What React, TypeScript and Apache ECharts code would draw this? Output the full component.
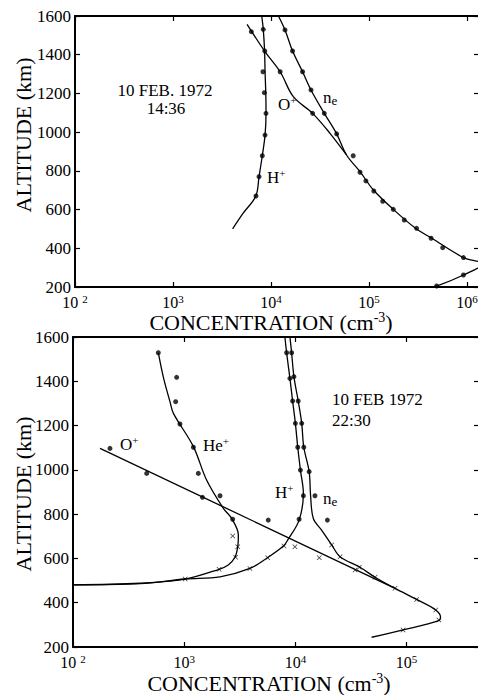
import React, { useEffect, useRef } from 'react';
import * as echarts from 'echarts';

// ---------- Top panel: 10 FEB. 1972 14:36 (concentration cm^-3, altitude km) ----------
const topHCurve: [number, number][] = [
  [8040, 1600], [8340, 1531], [8600, 1420], [8700, 1312], [8850, 1200], [8900, 1100],
  [8700, 985], [8150, 878], [7550, 770], [7000, 670], [5200, 581], [4060, 500],
];
const topHDots: [number, number][] = [
  [8340, 1531], [8630, 1419], [8280, 1312], [8550, 1204], [8890, 1097], [8690, 985],
  [8150, 878], [7550, 770], [7030, 670],
];
const topOCurve: [number, number][] = [
  [5700, 1557], [8600, 1419], [12400, 1312], [16900, 1183], [26600, 1097], [40000, 994], [59000, 882],
];
const topODots: [number, number][] = [[6300, 1519], [12400, 1312], [26600, 1097]];
const topNeCurve: [number, number][] = [
  [11900, 1600], [13900, 1528], [16600, 1419], [21000, 1312], [25600, 1218], [35000, 1097],
  [46800, 991], [59000, 882], [81000, 796], [111000, 701], [177000, 601], [299000, 503],
  [437000, 452], [920000, 352], [1450000, 320], [920000, 262], [490000, 205], [400000, 198],
];
const topNeDots: [number, number][] = [
  [13900, 1528], [16600, 1419], [21000, 1312], [25600, 1218], [35000, 1097], [46800, 991],
  [69000, 878], [81000, 793], [93000, 748], [112000, 696], [138000, 643], [177000, 601],
  [229000, 546], [306000, 503], [430000, 452], [565000, 403], [920000, 352], [920000, 262],
  [490000, 205],
];

// ---------- Bottom panel: 10 FEB 1972 22:30 ----------
const botHeCurve: [number, number][] = [
  [585, 1529], [650, 1418], [745, 1308], [800, 1255], [1210, 1105], [1590, 954], [2250, 826],
  [2670, 781], [3070, 706], [3030, 653], [2860, 605], [2490, 570], [2060, 551], [1020, 507],
  [400, 488], [100, 481],
];
const botHeDots: [number, number][] = [
  [585, 1529], [855, 1418], [838, 1308], [916, 1207], [1210, 1102], [1340, 984], [2100, 883], [2730, 777],
];
const botHeCross: [number, number][] = [[2730, 701], [3030, 653], [2900, 605], [2060, 551], [1020, 507]];

const botHCurve: [number, number][] = [
  [8050, 1600], [8340, 1529], [8930, 1413], [9440, 1311], [10000, 1210], [10500, 1102],
  [11100, 999], [11800, 894], [10800, 773], [8600, 686], [7800, 656], [5600, 603],
  [3900, 555], [2100, 517], [1020, 507], [400, 486], [100, 481],
];
const botHDots: [number, number][] = [
  [8340, 1529], [8930, 1413], [9440, 1311], [10000, 1210], [10500, 1102], [11100, 999], [11800, 883], [10800, 777],
];
const botHCross: [number, number][] = [[7900, 656], [5640, 603], [3900, 555]];

const botNeCurve: [number, number][] = [
  [8930, 1600], [9250, 1529], [9700, 1421], [10600, 1311], [11400, 1210], [11900, 1102],
  [13300, 992], [13700, 883], [14500, 780], [17200, 728], [21200, 661], [25200, 608],
  [38100, 560], [52000, 515], [78700, 465], [123000, 415], [183000, 367], [202000, 334],
  [195000, 319], [93000, 277], [48500, 244],
];
const botNeDots: [number, number][] = [
  [9250, 1529], [9700, 1421], [10600, 1311], [11400, 1210], [11900, 1102], [13300, 992], [15000, 883], [19400, 773],
];
const botNeCross: [number, number][] = [
  [21200, 661], [25200, 608], [37600, 560], [52000, 515], [78700, 465], [123000, 415],
  [183000, 367], [195000, 322], [93000, 277],
];

const botOLine: [number, number][] = [[175, 1097], [78700, 465]];
const botODots: [number, number][] = [[215, 1097], [460, 984], [1460, 876], [5700, 773]];
const botOCross: [number, number][] = [[9900, 653], [16400, 603], [34400, 548]];

const yTicks = { min: 200, max: 1600, step: 200 };
const topXRange = { min: 100, max: 1.326e6 };
const botXRange = { min: 100, max: 4.48e5 };

const FONT = 'Liberation Serif';
const CROSS = 'path://M0,1 L1,0 L5,4 L9,0 L10,1 L6,5 L10,9 L9,10 L5,6 L1,10 L0,9 L4,5 Z';

export default function App() {
  const ref = useRef<HTMLDivElement>(null);
  useEffect(() => {
    document.body.style.margin = '0';
    const chart = echarts.init(ref.current!, null, { renderer: 'svg' });

    const isPow = (v: number) => {
      const l = Math.log10(v);
      return Math.abs(l - Math.round(l)) < 1e-6;
    };
    const xLabel = (v: number) => {
      if (!isPow(v)) return '';
      const e = Math.round(Math.log10(v));
      return e === 2 ? '{b|10 }{s|2}' : '{b|10}{s|' + e + '}';
    };
    const axisLine = { show: true, onZero: false, lineStyle: { color: '#000', width: 2 } };
    const axisTick = { show: true, inside: true, length: 5, lineStyle: { color: '#000', width: 1.2 } };
    const xRich = {
      b: { fontSize: 16, fontFamily: FONT, color: '#000', lineHeight: 18 },
      s: { fontSize: 11, fontFamily: FONT, color: '#000', verticalAlign: 'top' },
    };

    const mkX = (gi: number, range: { min: number; max: number }, pos: 'bottom' | 'top') => ({
      type: 'log', logBase: 10, gridIndex: gi, min: range.min, max: range.max, position: pos,
      axisLine, axisTick,
      axisLabel: pos === 'bottom'
        ? { show: true, formatter: xLabel, margin: 6, rich: xRich, fontFamily: FONT, showMaxLabel: false }
        : { show: false },
      splitLine: { show: false }, minorTick: { show: false },
    });
    const mkY = (gi: number, pos: 'left' | 'right') => ({
      type: 'value', gridIndex: gi, min: yTicks.min, max: yTicks.max, interval: yTicks.step, position: pos,
      axisLine, axisTick,
      axisLabel: pos === 'left'
        ? { show: true, fontSize: 17, fontFamily: FONT, color: '#000', margin: 4, formatter: (v: number) => String(v) }
        : { show: false },
      splitLine: { show: false },
    });

    const line = (data: [number, number][], gi: number, smooth: number | boolean = 0.35) => ({
      type: 'line', xAxisIndex: gi * 2, yAxisIndex: gi * 2, data, smooth,
      symbol: 'none', showSymbol: false, silent: true, clip: true,
      lineStyle: { color: '#000', width: 1.3 },
    });
    const dots = (data: [number, number][], gi: number) => ({
      type: 'scatter', xAxisIndex: gi * 2, yAxisIndex: gi * 2, data, symbol: 'circle', symbolSize: 5,
      itemStyle: { color: '#000' }, silent: true, clip: true,
    });
    const crosses = (data: [number, number][], gi: number) => ({
      type: 'scatter', xAxisIndex: gi * 2, yAxisIndex: gi * 2, data, symbol: CROSS, symbolSize: 5,
      itemStyle: { color: '#000' }, silent: true, clip: true,
    });

    const txt = (x: number, y: number, text: string, rich: any, align = 'left', rotation = 0) => ({
      type: 'text', x, y, rotation, silent: true,
      style: { text, rich, align, verticalAlign: 'middle', fill: '#000', fontFamily: FONT, fontSize: 17 },
    });
    const annRich = {
      a: { fontSize: 17, fontFamily: FONT, color: '#000', lineHeight: 19 },
      s: { fontSize: 11, fontFamily: FONT, color: '#000', verticalAlign: 'top' },
      e: { fontSize: 13, fontFamily: FONT, color: '#000', verticalAlign: 'bottom' },
    };
    const titleRich = {
      a: { fontSize: 22, fontFamily: FONT, color: '#000', lineHeight: 24 },
      s: { fontSize: 14, fontFamily: FONT, color: '#000', verticalAlign: 'top' },
    };

    chart.setOption({
      animation: false,
      backgroundColor: '#fff',
      textStyle: { fontFamily: FONT },
      grid: [
        { left: 75, top: 16, width: 404, height: 271, containLabel: false, outerBoundsMode: 'none' },
        { left: 73, top: 337, width: 406, height: 310, containLabel: false, outerBoundsMode: 'none' },
      ],
      xAxis: [mkX(0, topXRange, 'bottom'), mkX(0, topXRange, 'top'), mkX(1, botXRange, 'bottom'), mkX(1, botXRange, 'top')],
      yAxis: [mkY(0, 'left'), mkY(0, 'right'), mkY(1, 'left'), mkY(1, 'right')],
      series: [
        line(topHCurve, 0), dots(topHDots, 0),
        line(topOCurve, 0), dots(topODots, 0),
        line(topNeCurve, 0), dots(topNeDots, 0),
        line(botHeCurve, 1), dots(botHeDots, 1), crosses(botHeCross, 1),
        line(botHCurve, 1), dots(botHDots, 1), crosses(botHCross, 1),
        line(botNeCurve, 1), dots(botNeDots, 1), crosses(botNeCross, 1),
        line(botOLine, 1, false), dots(botODots, 1), crosses(botOCross, 1),
      ],
      graphic: [
        txt(23, 135, '{a|ALTITUDE (km)}', titleRich, 'center', Math.PI / 2),
        txt(271, 322, '{a|CONCENTRATION (cm}{s|-3}{a|)}', titleRich, 'center'),
        txt(165, 90, '{a|10 FEB. 1972}', annRich, 'center'),
        txt(166, 108, '{a|14:36}', annRich, 'center'),
        txt(278, 104, '{a|O}{s|+}', annRich),
        txt(323, 97, '{a|n}{e|e}', annRich),
        txt(267, 177, '{a|H}{s|+}', annRich),

        txt(23, 494, '{a|ALTITUDE (km)}', titleRich, 'center', Math.PI / 2),
        txt(269, 683, '{a|CONCENTRATION (cm}{s|-3}{a|)}', titleRich, 'center'),
        txt(332, 399, '{a|10 FEB 1972}', annRich),
        txt(332, 420, '{a|22:30}', annRich),
        txt(275, 492, '{a|H}{s|+}', annRich),
        txt(323, 498, '{a|n}{e|e}', annRich),
        txt(120, 444, '{a|O}{s|+}', annRich),
        txt(203, 445, '{a|He}{s|+}', annRich),
      ],
    });
    return () => chart.dispose();
  }, []);
  return <div ref={ref} style={{ width: 478, height: 695 }} />;
}
